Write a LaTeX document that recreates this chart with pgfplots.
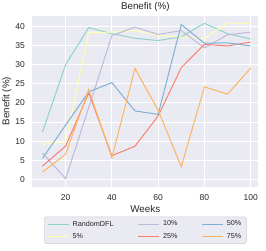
\documentclass[border=0pt]{standalone}
\usepackage{pgfplots}
\pgfplotsset{compat=1.18}
\usepackage{fontspec}
\setmainfont{Liberation Sans}
\definecolor{bgc}{HTML}{EAEAF2}
\definecolor{txt}{HTML}{262626}
\definecolor{cteal}{HTML}{8DD3C7}
\definecolor{cyel}{HTML}{FFFFB3}
\definecolor{clav}{HTML}{BEBADA}
\definecolor{csal}{HTML}{FB8072}
\definecolor{cblue}{HTML}{80B1D3}
\definecolor{corange}{HTML}{FDB462}
\begin{document}
\begin{tikzpicture}
\path[use as bounding box] (-32.3pt,-64.3pt) rectangle (233.7pt,186.7pt);
\begin{axis}[
  at={(0,0)}, anchor=south west,
  scale only axis, width=226pt, height=171pt,
  xmin=5.6, xmax=103.3, ymin=-1.9, ymax=42.8,
  xtick={20,40,60,80,100}, ytick={0,5,...,40},
  axis background/.style={fill=bgc},
  axis line style={draw=none},
  major tick length=0pt,
  grid=major, major grid style={white, line width=0.9pt},
  /pgf/number format/assume math mode=true,
  ticklabel style={font=\fontsize{8.5}{10}\selectfont, text=txt},
  yticklabel style={xshift=-4pt},
  xticklabel style={yshift=-4pt},
  xlabel={Weeks}, ylabel={Benefit (\%)},
  label style={font=\fontsize{9.8}{11}\selectfont, text=txt},
  xlabel style={yshift=2pt},
  ylabel style={yshift=-3pt},
  title={Benefit (\%)},
  title style={font=\fontsize{9.8}{11}\selectfont, text=txt, yshift=-5.5pt},
  legend columns=3,
  legend cell align=left,
  legend style={at={(0.5,-0.175)}, anchor=north, font=\fontsize{7.2}{8.5}\selectfont, text=txt,
    fill=bgc, draw=white!80!black, rounded corners=2pt, inner xsep=3pt, inner ysep=2pt,
    /tikz/every odd column/.append style={column sep=1.5pt},
    /tikz/every even column/.append style={column sep=22pt},
    row sep=1.5pt},
  legend image code/.code={\draw[#1] (0pt,0pt) -- (21pt,0pt);},
  every axis plot/.append style={line width=1pt},
]
\addplot[cteal, forget plot] coordinates {(10,12.4)(20,30)(30,39.7)(40,38.1)(50,36.9)(60,36.3)(70,37.3)(80,40.8)(90,38.1)(100,36.7)};
\addplot[cyel, forget plot] coordinates {(10,9.2)(20,9.8)(30,38.4)(40,38.5)(50,38.9)(60,37.7)(70,37.2)(80,36.8)(90,40.9)(100,40.8)};
\addplot[clav, forget plot] coordinates {(10,6.9)(20,0.2)(30,18.8)(40,37.6)(50,39.8)(60,37.9)(70,38.9)(80,34.4)(90,37.8)(100,38.5)};
\addplot[csal, forget plot] coordinates {(10,3.5)(20,8.7)(30,22.6)(40,6.2)(50,8.7)(60,16.6)(70,29.2)(80,35.3)(90,34.9)(100,35.9)};
\addplot[cblue, forget plot] coordinates {(10,5.5)(20,14.2)(30,22.9)(40,25.3)(50,17.9)(60,17.0)(70,40.5)(80,35.6)(90,35.7)(100,34.9)};
\addplot[corange, forget plot] coordinates {(10,1.9)(20,6.6)(30,23.5)(40,5.7)(50,29.0)(60,18.1)(70,3.3)(80,24.2)(90,22.3)(100,29.1)};
\addlegendimage{cteal}\addlegendentry{RandomDFL}
\addlegendimage{clav}\addlegendentry{10\%}
\addlegendimage{cblue}\addlegendentry{50\%}
\addlegendimage{cyel}\addlegendentry{5\%}
\addlegendimage{csal}\addlegendentry{25\%}
\addlegendimage{corange}\addlegendentry{75\%}
\end{axis}
\end{tikzpicture}
\end{document}
